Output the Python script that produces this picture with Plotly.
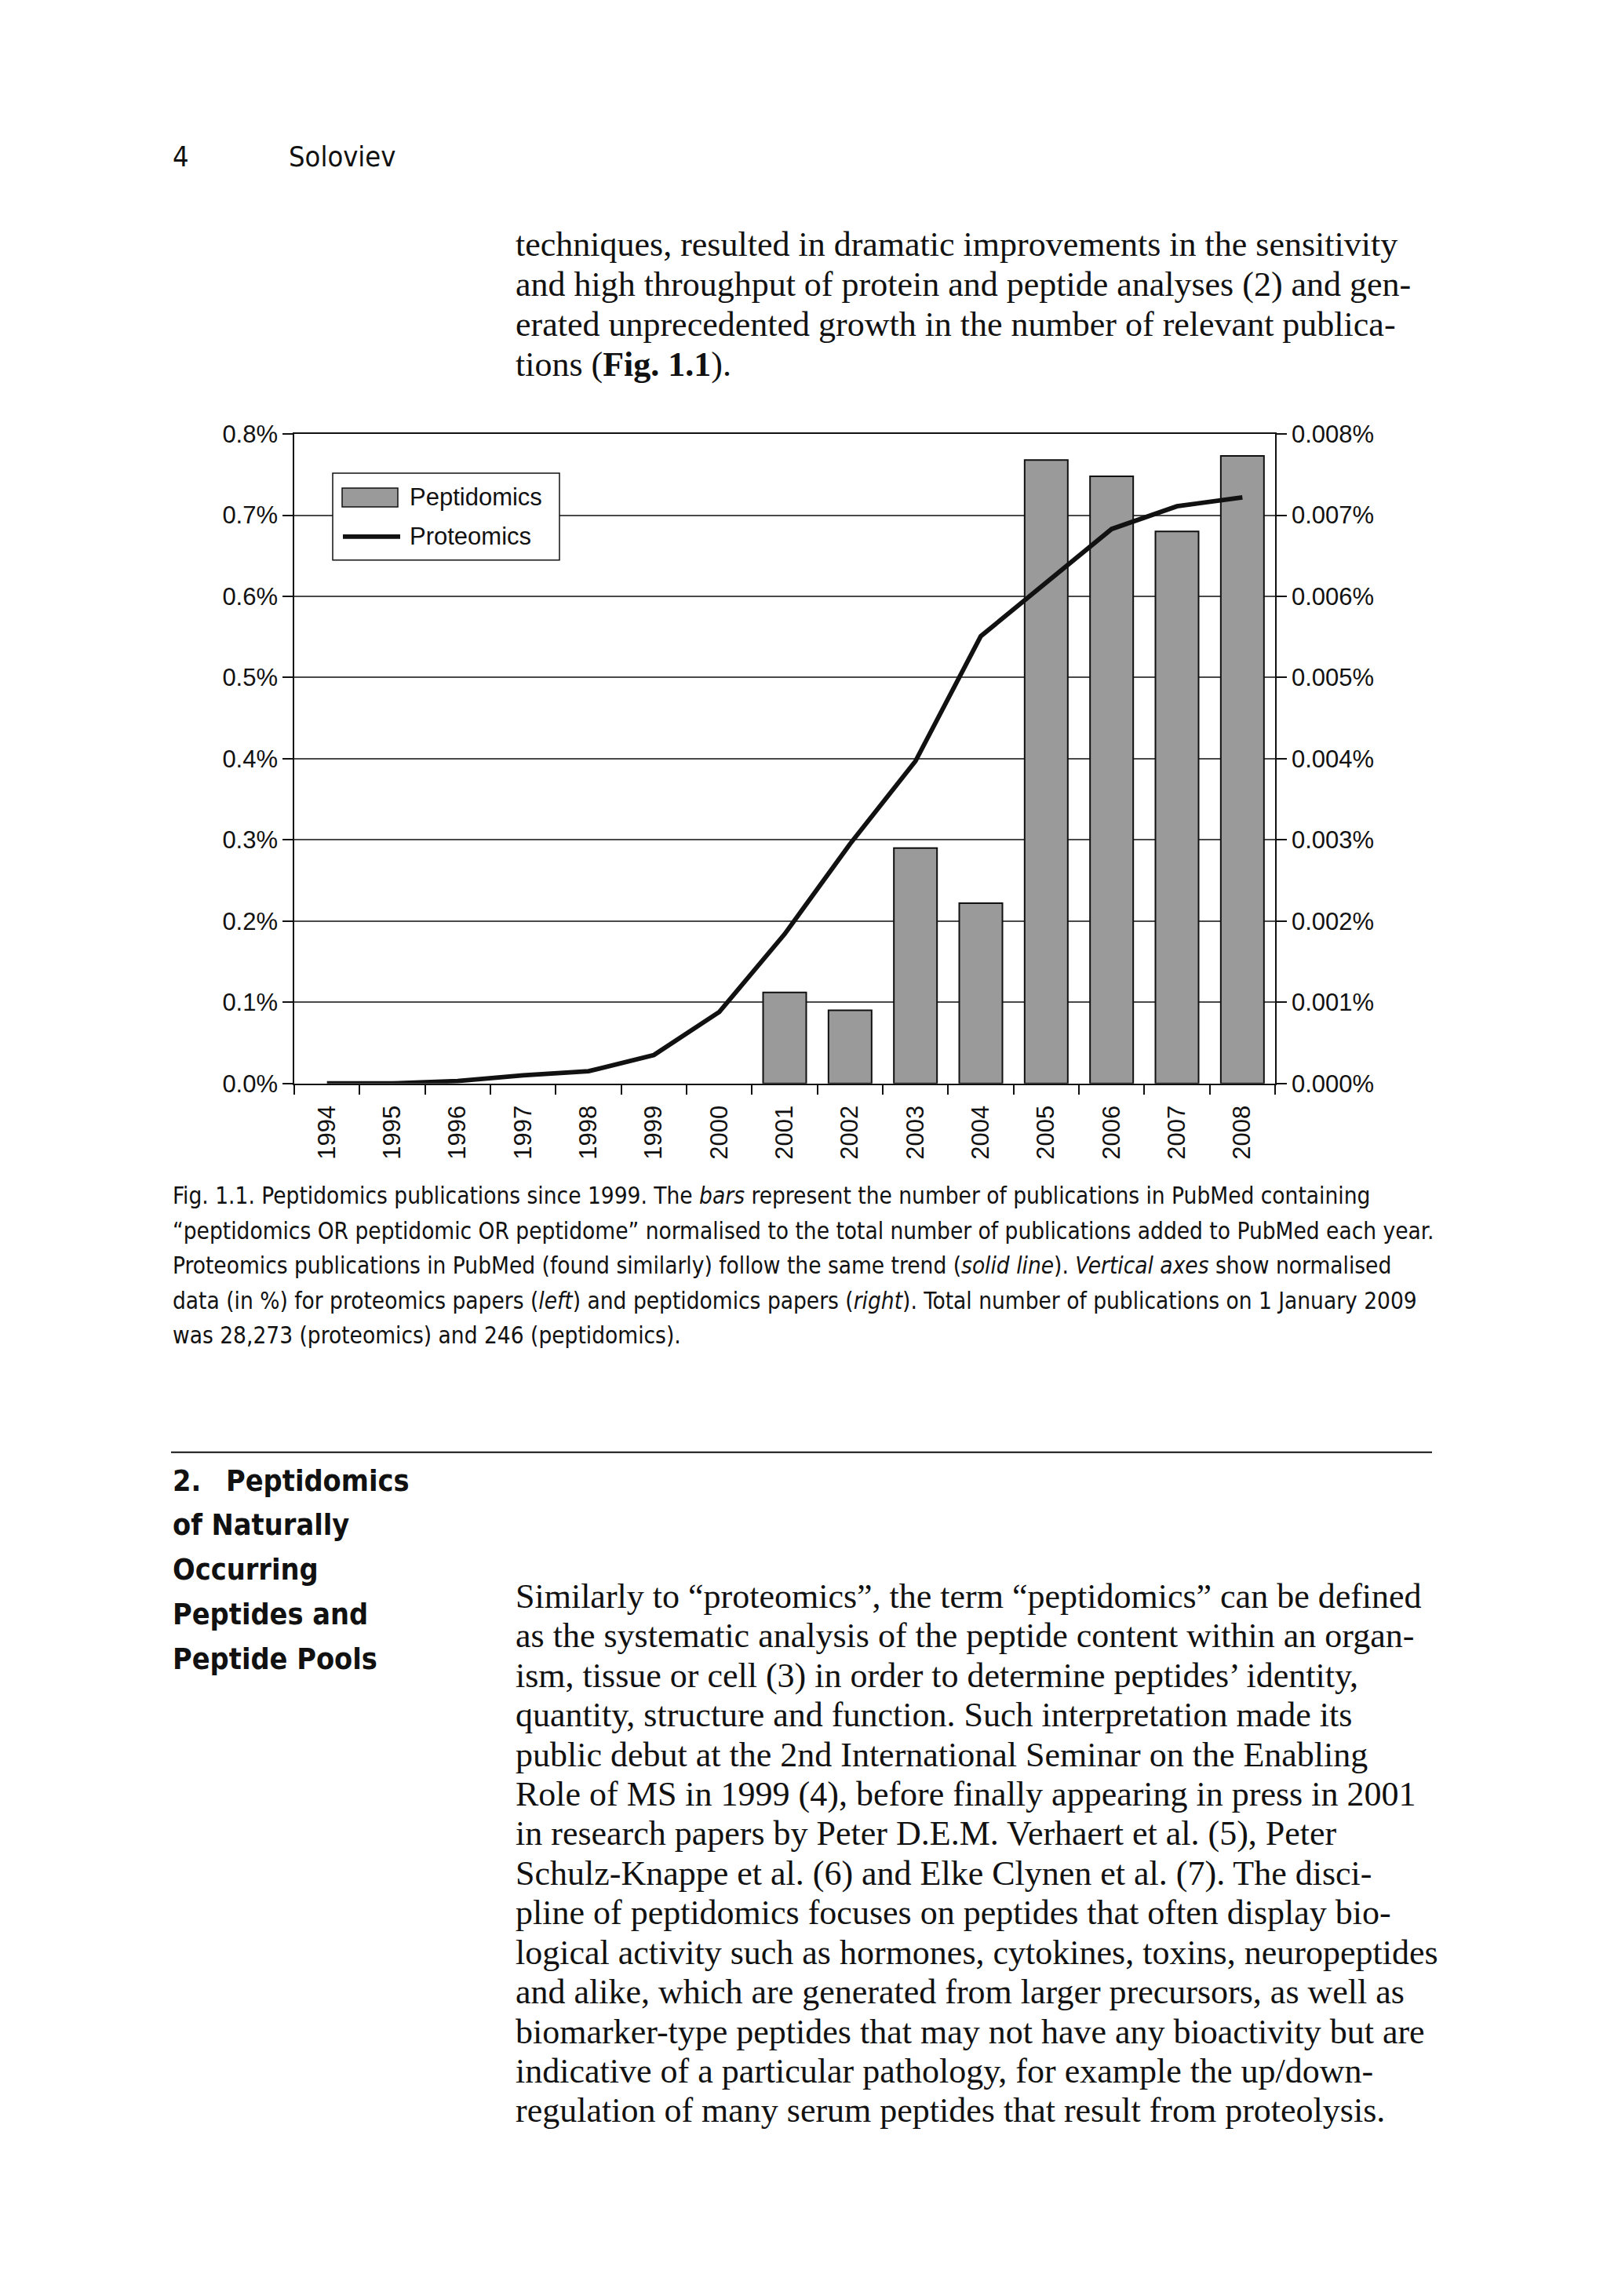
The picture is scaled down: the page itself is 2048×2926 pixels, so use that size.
import plotly.graph_objects as go

# ---------------- data ----------------
years = ["1994", "1995", "1996", "1997", "1998", "1999", "2000", "2001",
         "2002", "2003", "2004", "2005", "2006", "2007", "2008"]
proteomics = [0.000, 0.000, 0.003, 0.010, 0.015, 0.035, 0.088, 0.184,
              0.295, 0.397, 0.551, 0.617, 0.683, 0.711, 0.722]  # % (left axis)
pep_years = ["2001", "2002", "2003", "2004", "2005", "2006", "2007", "2008"]
peptidomics = [0.00112, 0.00090, 0.00290, 0.00222, 0.00768, 0.00748,
               0.00680, 0.00773]  # % (right axis)

# page is 2048x2926; the html body has an 8px margin, so the figure is
# sized to fit inside it and page coordinates are shifted by that margin
OFF = 8
W, H = 2048 - 2 * OFF, 2926 - 2 * OFF


def px(x):
    return (x - OFF) / W


def py(y):
    # vertical calibration of page position
    y = 1.0104 * y - 16.2
    return 1 - (y - OFF) / H


SANS = "Liberation Sans, Arial, sans-serif"
COND = "DejaVu Sans Condensed, Liberation Sans, sans-serif"
SERIF = "Liberation Serif, DejaVu Serif, serif"
INK = "#111111"

fig = go.Figure()

fig.add_trace(go.Bar(
    x=pep_years, y=peptidomics, name="Peptidomics",
    marker=dict(color="#9a9a9a", line=dict(color=INK, width=2)),
    yaxis="y", showlegend=False,
))
fig.add_trace(go.Scatter(
    x=years, y=proteomics, name="Proteomics", mode="lines",
    line=dict(color=INK, width=5.8), yaxis="y2", showlegend=False,
))

x0, x1 = 375, 1625
y_top, y_bot = 553, 1382

fig.update_layout(
    width=W, height=H,
    margin=dict(l=0, r=0, t=0, b=0),
    paper_bgcolor="white", plot_bgcolor="white",
    bargap=0.34,
    font=dict(family=SANS, size=31, color=INK),
    xaxis=dict(
        domain=[px(x0), px(x1)], type="category", categoryorder="array",
        categoryarray=years, range=[-0.5, len(years) - 0.5],
        tickson="boundaries", ticks="outside", ticklen=13, tickwidth=1.5,
        tickcolor=INK, tickangle=-90, showline=True, mirror=True,
        linecolor=INK, linewidth=1.5, showgrid=False, zeroline=False,
        ticklabelstandoff=14,
        tickfont=dict(family=SANS, size=31, color=INK),
    ),
    yaxis=dict(
        domain=[py(y_bot), py(y_top)], side="right", range=[0, 0.008],
        dtick=0.001, tick0=0, tickformat=".3f", ticksuffix="%",
        showgrid=True, gridcolor="#4a4a4a", gridwidth=1.5,
        showline=True, linecolor=INK, linewidth=1.5, ticks="outside",
        ticklen=13, tickwidth=1.5, tickcolor=INK, zeroline=False,
        tickfont=dict(family=SANS, size=31, color=INK),
    ),
    yaxis2=dict(
        overlaying="y", side="left", range=[0, 0.8], dtick=0.1, tick0=0,
        tickformat=".1f", ticksuffix="%", showgrid=False, showline=True,
        linecolor=INK, linewidth=1.5, ticks="outside", ticklen=13,
        tickwidth=1.5, tickcolor=INK, zeroline=False,
        tickfont=dict(family=SANS, size=31, color=INK),
    ),
)

# ---------------- legend (drawn box) ----------------
shapes = [
    dict(type="rect", xref="paper", yref="paper", x0=px(424), x1=px(713),
         y0=py(714), y1=py(603), line=dict(color=INK, width=1.5),
         fillcolor="white", layer="above"),
    dict(type="rect", xref="paper", yref="paper", x0=px(436), x1=px(507),
         y0=py(646), y1=py(622), line=dict(color=INK, width=1.5),
         fillcolor="#9a9a9a", layer="above"),
    dict(type="line", xref="paper", yref="paper", x0=px(437), x1=px(510),
         y0=py(684), y1=py(684), line=dict(color=INK, width=5.8), layer="above"),
    # horizontal rule above section heading
    dict(type="line", xref="paper", yref="paper", x0=px(218), x1=px(1825),
         y0=py(1853), y1=py(1853), line=dict(color=INK, width=2)),
]
fig.update_layout(shapes=shapes)

ann = []


def text(x, y, s, size, family, bold=False, anchor="left"):
    if bold:
        s = "<b>" + s + "</b>"
    ann.append(dict(x=px(x), y=py(y), xref="paper", yref="paper", text=s,
                    showarrow=False, xanchor=anchor, yanchor="middle",
                    font=dict(size=size, family=family, color=INK)))


text(520, 634, "Peptidomics", 31, SANS)
text(520, 684, "Proteomics", 31, SANS)

# page header
text(218, 199, "4", 36, COND)
text(366, 199, "Soloviev", 36, COND)

# top paragraph
top_par = [
    "techniques, resulted in dramatic improvements in the sensitivity",
    "and high throughput of protein and peptide analyses (2) and gen-",
    "erated unprecedented growth in the number of relevant publica-",
    "tions (<b>Fig. 1.1</b>).",
]
for i, s in enumerate(top_par):
    text(655, 311 + 51 * i, s, 44, SERIF)

# caption
caption = [
    "Fig. 1.1. Peptidomics publications since 1999. The <i>bars</i> represent the number of publications in PubMed containing",
    "“peptidomics OR peptidomic OR peptidome” normalised to the total number of publications added to PubMed each year.",
    "Proteomics publications in PubMed (found similarly) follow the same trend (<i>solid line</i>). <i>Vertical axes</i> show normalised",
    "data (in %) for proteomics papers (<i>left</i>) and peptidomics papers (<i>right</i>). Total number of publications on 1 January 2009",
    "was 28,273 (proteomics) and 246 (peptidomics).",
]
for i, s in enumerate(caption):
    text(218, 1526 + 44.5 * i, s, 29.5, COND)

# section heading
text(218, 1889, "2.", 37.5, COND, bold=True)
heading = ["Peptidomics", "of Naturally", "Occurring", "Peptides and", "Peptide Pools"]
for i, s in enumerate(heading):
    text(286 if i == 0 else 218, 1889 + 56.8 * i, s, 37.5, COND, bold=True)

# body paragraph
body = [
    "Similarly to “proteomics”, the term “peptidomics” can be defined",
    "as the systematic analysis of the peptide content within an organ-",
    "ism, tissue or cell (3) in order to determine peptides’ identity,",
    "quantity, structure and function. Such interpretation made its",
    "public debut at the 2nd International Seminar on the Enabling",
    "Role of MS in 1999 (4), before finally appearing in press in 2001",
    "in research papers by Peter D.E.M. Verhaert et al. (5), Peter",
    "Schulz-Knappe et al. (6) and Elke Clynen et al. (7). The disci-",
    "pline of peptidomics focuses on peptides that often display bio-",
    "logical activity such as hormones, cytokines, toxins, neuropeptides",
    "and alike, which are generated from larger precursors, as well as",
    "biomarker-type peptides that may not have any bioactivity but are",
    "indicative of a particular pathology, for example the up/down-",
    "regulation of many serum peptides that result from proteolysis.",
]
for i, s in enumerate(body):
    text(655, 2037 + 50.5 * i, s, 44, SERIF)

fig.update_layout(annotations=ann)

fig.write_html("out.html")
